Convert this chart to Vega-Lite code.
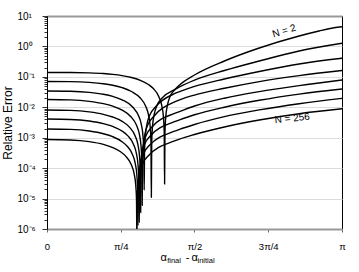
{
  "$schema": "https://vega.github.io/schema/vega-lite/v6.json",
  "width": 295,
  "height": 213,
  "autosize": {"type": "none"},
  "padding": {"left": 47, "top": 16, "right": 17, "bottom": 43},
  "background": "white",
  "config": {"font": "Liberation Sans", "view": {"stroke": "black", "strokeWidth": 1}},
  "layer": [
    {
      "data": {"values": [
        {"N":2,"x":0,"e":0.139},{"N":2,"x":0.25,"e":0.1385},{"N":2,"x":0.45,"e":0.1351},{"N":2,"x":0.6,"e":0.1284},{"N":2,"x":0.7,"e":0.1208},{"N":2,"x":0.8,"e":0.11},{"N":2,"x":0.9,"e":0.0953},{"N":2,"x":1.0,"e":0.0758},{"N":2,"x":1.08,"e":0.0562},{"N":2,"x":1.1323,"e":0.0413},{"N":2,"x":1.1923,"e":0.02195},{"N":2,"x":1.2223,"e":0.01131},{"N":2,"x":1.2403,"e":0.004605},{"N":2,"x":1.2483,"e":0.001548},{"N":2,"x":1.2523,"e":0.00003},{"N":2,"x":1.2563,"e":0.001554},{"N":2,"x":1.2643,"e":0.00466},{"N":2,"x":1.2823,"e":0.01166},{"N":2,"x":1.3123,"e":0.0233},{"N":2,"x":1.3585,"e":0.037},{"N":2,"x":1.4115,"e":0.054},{"N":2,"x":1.5708,"e":0.1151},{"N":2,"x":1.8891,"e":0.332},{"N":2,"x":2.2606,"e":0.888},{"N":2,"x":2.6851,"e":2.202},{"N":2,"x":2.8974,"e":3.215},{"N":2,"x":3.0566,"e":4.095},{"N":2,"x":3.14159,"e":4.45},
        {"N":4,"x":0,"e":0.0705},{"N":4,"x":0.25,"e":0.0697},{"N":4,"x":0.45,"e":0.0658},{"N":4,"x":0.6,"e":0.0594},{"N":4,"x":0.7,"e":0.0529},{"N":4,"x":0.8,"e":0.0442},{"N":4,"x":0.9,"e":0.033},{"N":4,"x":0.9912,"e":0.02047},{"N":4,"x":1.0512,"e":0.01081},{"N":4,"x":1.0812,"e":0.00556},{"N":4,"x":1.0992,"e":0.002258},{"N":4,"x":1.1072,"e":0.000759},{"N":4,"x":1.1112,"e":0.000011},{"N":4,"x":1.1152,"e":0.000761},{"N":4,"x":1.1232,"e":0.002284},{"N":4,"x":1.1412,"e":0.00571},{"N":4,"x":1.1712,"e":0.01142},{"N":4,"x":1.2312,"e":0.021},{"N":4,"x":1.3585,"e":0.038},{"N":4,"x":1.4115,"e":0.0468},{"N":4,"x":1.5708,"e":0.0782},{"N":4,"x":1.8891,"e":0.1618},{"N":4,"x":2.2606,"e":0.332},{"N":4,"x":2.6851,"e":0.708},{"N":4,"x":3.14159,"e":1.267},
        {"N":8,"x":0,"e":0.0343},{"N":8,"x":0.25,"e":0.03366},{"N":8,"x":0.45,"e":0.03097},{"N":8,"x":0.6,"e":0.02685},{"N":8,"x":0.7,"e":0.02282},{"N":8,"x":0.8,"e":0.01761},{"N":8,"x":0.9148,"e":0.01002},{"N":8,"x":0.9748,"e":0.00528},{"N":8,"x":1.0048,"e":0.002713},{"N":8,"x":1.0228,"e":0.001102},{"N":8,"x":1.0308,"e":0.00037},{"N":8,"x":1.0348,"e":0.000019},{"N":8,"x":1.0388,"e":0.000371},{"N":8,"x":1.0468,"e":0.001114},{"N":8,"x":1.0648,"e":0.002784},{"N":8,"x":1.0948,"e":0.00557},{"N":8,"x":1.1548,"e":0.01025},{"N":8,"x":1.3585,"e":0.028},{"N":8,"x":1.4115,"e":0.0325},{"N":8,"x":1.5708,"e":0.0485},{"N":8,"x":1.8891,"e":0.0851},{"N":8,"x":2.2606,"e":0.15},{"N":8,"x":2.6851,"e":0.2647},{"N":8,"x":3.14159,"e":0.407},
        {"N":16,"x":0,"e":0.018},{"N":16,"x":0.25,"e":0.01746},{"N":16,"x":0.45,"e":0.01564},{"N":16,"x":0.6,"e":0.01315},{"N":16,"x":0.7,"e":0.01087},{"N":16,"x":0.8,"e":0.00804},{"N":16,"x":0.8936,"e":0.004864},{"N":16,"x":0.9536,"e":0.002547},{"N":16,"x":0.9836,"e":0.001302},{"N":16,"x":1.0016,"e":0.000528},{"N":16,"x":1.0096,"e":0.000177},{"N":16,"x":1.0136,"e":0.000006},{"N":16,"x":1.0176,"e":0.0001776},{"N":16,"x":1.0256,"e":0.000533},{"N":16,"x":1.0436,"e":0.001332},{"N":16,"x":1.0736,"e":0.002664},{"N":16,"x":1.1336,"e":0.0049},{"N":16,"x":1.3585,"e":0.015},{"N":16,"x":1.4115,"e":0.0175},{"N":16,"x":1.5708,"e":0.0252},{"N":16,"x":1.8891,"e":0.0421},{"N":16,"x":2.2606,"e":0.0699},{"N":16,"x":2.6851,"e":0.11},{"N":16,"x":3.14159,"e":0.1618},
        {"N":32,"x":0,"e":0.00815},{"N":32,"x":0.25,"e":0.007894},{"N":32,"x":0.45,"e":0.007036},{"N":32,"x":0.6,"e":0.005864},{"N":32,"x":0.7,"e":0.004789},{"N":32,"x":0.8,"e":0.003457},{"N":32,"x":0.8776,"e":0.002235},{"N":32,"x":0.9376,"e":0.00117},{"N":32,"x":0.9676,"e":0.000599},{"N":32,"x":0.9856,"e":0.000243},{"N":32,"x":0.9936,"e":0.0000815},{"N":32,"x":0.9976,"e":0.0000035},{"N":32,"x":1.0016,"e":0.0000817},{"N":32,"x":1.0096,"e":0.000245},{"N":32,"x":1.0276,"e":0.000613},{"N":32,"x":1.0576,"e":0.001225},{"N":32,"x":1.1176,"e":0.002254},{"N":32,"x":1.3585,"e":0.0063},{"N":32,"x":1.4115,"e":0.00725},{"N":32,"x":1.5708,"e":0.011},{"N":32,"x":1.8891,"e":0.01989},{"N":32,"x":2.2606,"e":0.03278},{"N":32,"x":2.6851,"e":0.0516},{"N":32,"x":3.14159,"e":0.0788},
        {"N":64,"x":0,"e":0.00412},{"N":64,"x":0.25,"e":0.003985},{"N":64,"x":0.45,"e":0.003534},{"N":64,"x":0.6,"e":0.002917},{"N":64,"x":0.7,"e":0.002351},{"N":64,"x":0.8,"e":0.00165},{"N":64,"x":0.8617,"e":0.001146},{"N":64,"x":0.9217,"e":0.000601},{"N":64,"x":0.9517,"e":0.000308},{"N":64,"x":0.9697,"e":0.0001247},{"N":64,"x":0.9777,"e":0.0000418},{"N":64,"x":0.9817,"e":0.0000017},{"N":64,"x":0.9857,"e":0.000042},{"N":64,"x":0.9937,"e":0.0001259},{"N":64,"x":1.0117,"e":0.0003147},{"N":64,"x":1.0417,"e":0.000629},{"N":64,"x":1.1017,"e":0.001158},{"N":64,"x":1.3585,"e":0.00336},{"N":64,"x":1.4115,"e":0.00386},{"N":64,"x":1.5708,"e":0.00569},{"N":64,"x":1.8891,"e":0.01007},{"N":64,"x":2.2606,"e":0.01698},{"N":64,"x":2.6851,"e":0.02713},{"N":64,"x":3.14159,"e":0.0399},
        {"N":128,"x":0,"e":0.00194},{"N":128,"x":0.25,"e":0.001874},{"N":128,"x":0.45,"e":0.001655},{"N":128,"x":0.6,"e":0.001355},{"N":128,"x":0.7,"e":0.00108},{"N":128,"x":0.8,"e":0.000738},{"N":128,"x":0.849,"e":0.000546},{"N":128,"x":0.909,"e":0.0002865},{"N":128,"x":0.939,"e":0.0001467},{"N":128,"x":0.957,"e":0.0000595},{"N":128,"x":0.965,"e":0.00002},{"N":128,"x":0.969,"e":0.0000013},{"N":128,"x":0.973,"e":0.00002},{"N":128,"x":0.981,"e":0.00006},{"N":128,"x":0.999,"e":0.00015},{"N":128,"x":1.029,"e":0.0003},{"N":128,"x":1.089,"e":0.0005526},{"N":128,"x":1.3585,"e":0.001637},{"N":128,"x":1.4115,"e":0.001884},{"N":128,"x":1.5708,"e":0.00272},{"N":128,"x":1.8891,"e":0.00491},{"N":128,"x":2.2606,"e":0.0082},{"N":128,"x":2.6851,"e":0.01312},{"N":128,"x":3.14159,"e":0.0196},
        {"N":256,"x":0,"e":0.000875},{"N":256,"x":0.25,"e":0.000845},{"N":256,"x":0.45,"e":0.000742},{"N":256,"x":0.6,"e":0.000603},{"N":256,"x":0.7,"e":0.000475},{"N":256,"x":0.78,"e":0.000351},{"N":256,"x":0.8373,"e":0.000249},{"N":256,"x":0.8973,"e":0.0001307},{"N":256,"x":0.9273,"e":0.0000669},{"N":256,"x":0.9453,"e":0.0000272},{"N":256,"x":0.9533,"e":0.0000091},{"N":256,"x":0.9573,"e":0.0000004},{"N":256,"x":0.9613,"e":0.00000914},{"N":256,"x":0.9693,"e":0.0000274},{"N":256,"x":0.9873,"e":0.0000686},{"N":256,"x":1.0173,"e":0.000137},{"N":256,"x":1.0773,"e":0.0002523},{"N":256,"x":1.3585,"e":0.000783},{"N":256,"x":1.4115,"e":0.000902},{"N":256,"x":1.5708,"e":0.001276},{"N":256,"x":1.8891,"e":0.00225},{"N":256,"x":2.2606,"e":0.00382},{"N":256,"x":2.6851,"e":0.00616},{"N":256,"x":3.14159,"e":0.00892}
      ]},
      "mark": {"type": "line", "interpolate": "monotone", "clip": true, "color": "black", "strokeWidth": 1.4},
      "encoding": {
        "x": {
          "field": "x", "type": "quantitative",
          "scale": {"domain": [0, 3.14159265], "nice": false, "zero": false},
          "axis": {
            "values": [0, 0.392699, 0.785398, 1.178097, 1.570796, 1.963495, 2.356194, 2.748894, 3.14159],
            "labelExpr": "abs(datum.value) < 0.01 ? '0' : abs(datum.value - PI/4) < 0.01 ? 'π/4' : abs(datum.value - PI/2) < 0.01 ? 'π/2' : abs(datum.value - 3*PI/4) < 0.01 ? '3π/4' : abs(datum.value - PI) < 0.01 ? 'π' : ''",
            "title": null,
            "grid": false,
            "domainColor": "#999999", "domainWidth": 2,
            "tickColor": "#666666", "tickSize": 3, "tickWidth": 1,
            "labelFontSize": 9.5, "labelPadding": 9, "labelColor": "black",
            "labelFlush": false, "labelOverlap": false
          }
        },
        "y": {
          "field": "e", "type": "quantitative",
          "scale": {"type": "log", "domain": [0.000001, 10], "nice": false},
          "axis": {
            "values": [0.000001,0.000002,0.000003,0.000004,0.000005,0.000006,0.000007,0.000008,0.000009,0.00001,0.00002,0.00003,0.00004,0.00005,0.00006,0.00007,0.00008,0.00009,0.0001,0.0002,0.0003,0.0004,0.0005,0.0006,0.0007,0.0008,0.0009,0.001,0.002,0.003,0.004,0.005,0.006,0.007,0.008,0.009,0.01,0.02,0.03,0.04,0.05,0.06,0.07,0.08,0.09,0.1,0.2,0.3,0.4,0.5,0.6,0.7,0.8,0.9,1,2,3,4,5,6,7,8,9,10],
            "labelExpr": "abs(log(datum.value)/LN10 - round(log(datum.value)/LN10)) > 0.01 ? '' : ['10⁻⁶','10⁻⁵','10⁻⁴','10⁻³','10⁻²','10⁻¹','10⁰','10¹'][round(log(datum.value)/LN10) + 6]",
            "title": "Relative Error",
            "titleFontSize": 12, "titleFontWeight": "normal", "titleColor": "black", "titlePadding": 3,
            "labelFontSize": 10, "labelColor": "black", "labelAlign": "left", "labelPadding": 25, "labelOverlap": false,
            "tickColor": "#333333", "tickWidth": 1,
            "tickSize": {"condition": {"test": "abs(log(datum.value)/LN10 - round(log(datum.value)/LN10)) < 0.01", "value": 5}, "value": 3},
            "domainColor": "black", "domainWidth": 1,
            "grid": true,
            "gridColor": {"condition": {"test": "datum.value > 5", "value": "#999999"}, "value": "#dcdcdc"},
            "gridWidth": {"condition": {"test": "datum.value > 5", "value": 2}, "value": 1},
            "gridOpacity": {"condition": {"test": "abs(log(datum.value)/LN10 - round(log(datum.value)/LN10)) < 0.01", "value": 1}, "value": 0}
          }
        },
        "detail": {"field": "N", "type": "nominal"}
      }
    },
    {
      "data": {"values": [{}]},
      "mark": {"type": "text", "align": "center", "baseline": "middle", "fontSize": 10, "angle": 343, "color": "black"},
      "encoding": {
        "x": {"datum": 2.526, "type": "quantitative"},
        "y": {"datum": 3.21, "type": "quantitative"},
        "text": {"value": "N = 2"}
      }
    },
    {
      "data": {"values": [{}]},
      "mark": {"type": "text", "align": "center", "baseline": "middle", "fontSize": 10, "angle": 354, "color": "black"},
      "encoding": {
        "x": {"datum": 2.611, "type": "quantitative"},
        "y": {"datum": 0.00428, "type": "quantitative"},
        "text": {"value": "N = 256"}
      }
    },
    {
      "data": {"values": [{}]},
      "mark": {"type": "text", "align": "left", "baseline": "alphabetic", "fontSize": 11, "color": "black"},
      "encoding": {
        "x": {"datum": 1.2099, "type": "quantitative"},
        "y": {"datum": 0.0000000889, "type": "quantitative"},
        "text": {"value": "α"}
      }
    },
    {
      "data": {"values": [{}]},
      "mark": {"type": "text", "align": "left", "baseline": "alphabetic", "fontSize": 7.5, "color": "black"},
      "encoding": {
        "x": {"datum": 1.2800, "type": "quantitative"},
        "y": {"datum": 0.0000000764, "type": "quantitative"},
        "text": {"value": "final"}
      }
    },
    {
      "data": {"values": [{}]},
      "mark": {"type": "text", "align": "center", "baseline": "alphabetic", "fontSize": 11, "color": "black"},
      "encoding": {
        "x": {"datum": 1.4964, "type": "quantitative"},
        "y": {"datum": 0.0000000889, "type": "quantitative"},
        "text": {"value": "-"}
      }
    },
    {
      "data": {"values": [{}]},
      "mark": {"type": "text", "align": "left", "baseline": "alphabetic", "fontSize": 11, "color": "black"},
      "encoding": {
        "x": {"datum": 1.5389, "type": "quantitative"},
        "y": {"datum": 0.0000000889, "type": "quantitative"},
        "text": {"value": "α"}
      }
    },
    {
      "data": {"values": [{}]},
      "mark": {"type": "text", "align": "left", "baseline": "alphabetic", "fontSize": 7.5, "color": "black"},
      "encoding": {
        "x": {"datum": 1.6026, "type": "quantitative"},
        "y": {"datum": 0.0000000764, "type": "quantitative"},
        "text": {"value": "initial"}
      }
    }
  ]
}
